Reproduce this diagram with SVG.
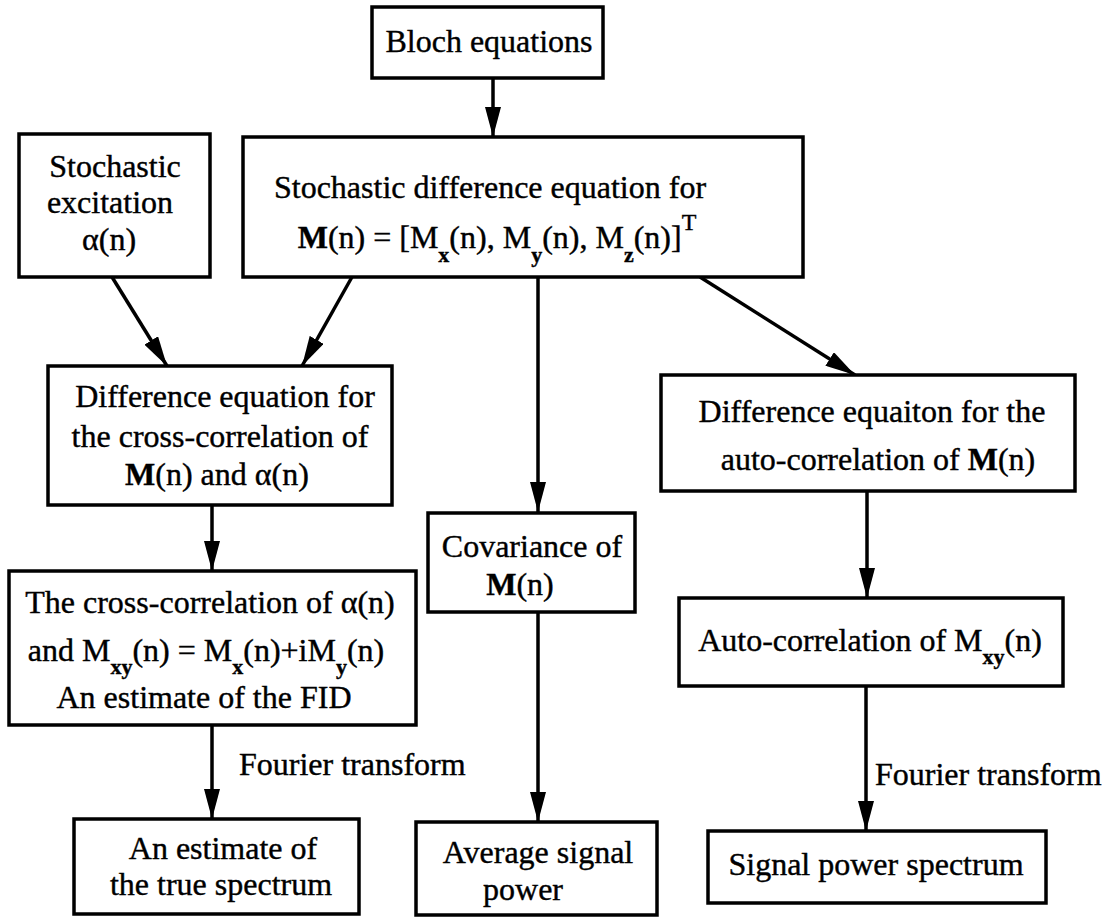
<svg xmlns="http://www.w3.org/2000/svg" width="1106" height="918" viewBox="0 0 1106 918">
<defs>
<style>
.box{fill:#fff;stroke:#000;stroke-width:3.5}
.t{font-family:"Liberation Serif","Times New Roman",serif;font-size:32px;fill:#000;stroke:#000;stroke-width:0.4}
.c{text-anchor:middle}
.b{font-weight:bold}
.sub{font-size:22px;font-weight:bold}
.sup{font-size:24px}
.conn{stroke:#000;stroke-width:3.5;fill:none;marker-end:url(#ah)}
</style>
<marker id="ah" markerUnits="userSpaceOnUse" viewBox="0 0 30 16" refX="30" refY="8" markerWidth="30" markerHeight="16" orient="auto">
<path d="M0,0 L30,8 L0,16 Z" fill="#000"/>
</marker>
</defs>
<rect width="1106" height="918" fill="#fff"/>
<g id="connectors">
<line class="conn" x1="493" y1="78" x2="493" y2="137"/>
<line class="conn" x1="112" y1="277" x2="167" y2="366"/>
<line class="conn" x1="352" y1="277" x2="302" y2="366"/>
<line class="conn" x1="700" y1="277" x2="855" y2="375"/>
<line class="conn" x1="538" y1="277" x2="538" y2="512"/>
<line class="conn" x1="212" y1="505" x2="212" y2="571"/>
<line class="conn" x1="212" y1="725" x2="212" y2="819"/>
<line class="conn" x1="538" y1="612" x2="538" y2="822"/>
<line class="conn" x1="867" y1="491" x2="867" y2="598"/>
<line class="conn" x1="866" y1="686" x2="866" y2="831"/>
<text class="t" x="239" y="775">Fourier transform</text>
<text class="t" x="875" y="785">Fourier transform</text>
</g>
<g id="bloch">
<rect class="box" x="372" y="7" width="231" height="71"/>
<text class="t c" x="489" y="52">Bloch equations</text>
</g>
<g id="excitation">
<rect class="box" x="19" y="134" width="191" height="143"/>
<text class="t c" x="115" y="177">Stochastic</text>
<text class="t c" x="110" y="213">excitation</text>
<text class="t c" x="109" y="250">α(n)</text>
</g>
<g id="stochastic">
<rect class="box" x="243" y="137" width="560" height="140"/>
<text class="t c" x="490" y="198">Stochastic difference equation for</text>
<text class="t c" x="497" y="248"><tspan class="b">M</tspan>(n) = [M<tspan class="sub" dy="14">x</tspan><tspan dy="-14">(n), M</tspan><tspan class="sub" dy="14">y</tspan><tspan dy="-14">(n), M</tspan><tspan class="sub" dy="14">z</tspan><tspan dy="-14">(n)]</tspan><tspan class="sup" dy="-18">T</tspan></text>
</g>
<g id="crossdiff">
<rect class="box" x="48" y="366" width="344" height="139"/>
<text class="t c" x="225" y="407">Difference equation for</text>
<text class="t c" x="220" y="447">the cross-correlation of</text>
<text class="t c" x="217" y="485"><tspan class="b">M</tspan>(n) and α(n)</text>
</g>
<g id="crosscorr">
<rect class="box" x="9" y="571" width="407" height="154"/>
<text class="t c" x="210" y="613">The cross-correlation of α(n)</text>
<text class="t c" x="206" y="661">and M<tspan class="sub" dy="13">xy</tspan><tspan dy="-13">(n) = M</tspan><tspan class="sub" dy="13">x</tspan><tspan dy="-13">(n)+iM</tspan><tspan class="sub" dy="13">y</tspan><tspan dy="-13">(n)</tspan></text>
<text class="t c" x="204" y="708">An estimate of the FID</text>
</g>
<g id="estimate">
<rect class="box" x="74" y="819" width="285" height="95"/>
<text class="t c" x="223" y="859">An estimate of</text>
<text class="t c" x="221" y="895">the true spectrum</text>
</g>
<g id="covariance">
<rect class="box" x="428" y="513" width="207" height="99"/>
<text class="t c" x="532" y="557">Covariance of</text>
<text class="t c" x="520" y="595"><tspan class="b">M</tspan>(n)</text>
</g>
<g id="average">
<rect class="box" x="416" y="822" width="241" height="93"/>
<text class="t c" x="538" y="863">Average signal</text>
<text class="t c" x="523" y="900">power</text>
</g>
<g id="autodiff">
<rect class="box" x="661" y="375" width="414" height="116"/>
<text class="t c" x="872" y="422">Difference equaiton for the</text>
<text class="t c" x="878" y="470">auto-correlation of <tspan class="b">M</tspan>(n)</text>
</g>
<g id="autocorr">
<rect class="box" x="679" y="598" width="384" height="88"/>
<text class="t c" x="870" y="651">Auto-correlation of M<tspan class="sub" dy="13">xy</tspan><tspan dy="-13">(n)</tspan></text>
</g>
<g id="spectrum">
<rect class="box" x="708" y="831" width="338" height="72"/>
<text class="t c" x="876" y="875">Signal power spectrum</text>
</g>
</svg>
